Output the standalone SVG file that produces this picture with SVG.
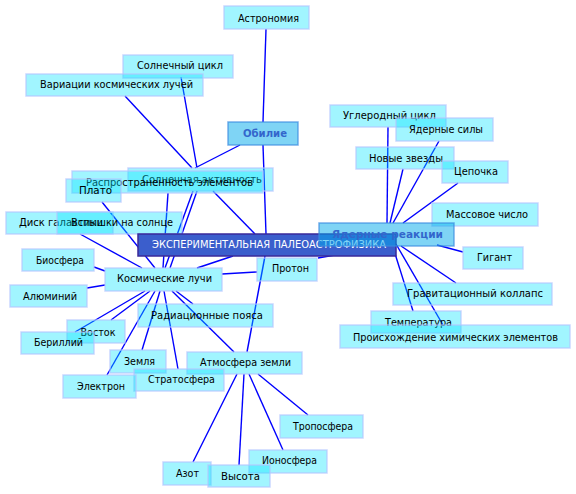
<svg xmlns="http://www.w3.org/2000/svg" width="576" height="494" viewBox="0 0 576 494">
<style>
.e{stroke:#0000ff;stroke-width:1.4;fill:none}
.n rect{fill:#00e5ff;fill-opacity:0.37;stroke:#b4c4ff;stroke-opacity:0.7;stroke-width:1.5}
.n text{font-family:"DejaVu Sans",sans-serif;font-size:10px;fill:#000;text-anchor:middle;dominant-baseline:central}
.h rect{fill:#00aaeb;fill-opacity:0.5;stroke:#3c8ce0;stroke-opacity:0.7;stroke-width:1.5}
.h text{font-family:"DejaVu Sans",sans-serif;font-size:10px;font-weight:bold;fill:#3366cc;text-anchor:middle;dominant-baseline:central}
.c rect{fill:#3b5ecc;stroke:#3a2a9a;stroke-width:1.5}
.c text{font-family:"DejaVu Sans",sans-serif;font-size:10px;fill:#fff;text-anchor:middle;dominant-baseline:central}
</style>
<rect width="576" height="494" fill="#fff"/>
<g id="connectors">
<line class="e" x1="266" y1="29" x2="263" y2="122"/>
<line class="e" x1="181" y1="77" x2="197" y2="168"/>
<line class="e" x1="125" y1="96" x2="192" y2="168"/>
<line class="e" x1="240" y1="145" x2="195" y2="168"/>
<line class="e" x1="263" y1="145" x2="266" y2="234"/>
<line class="e" x1="213" y1="191" x2="255" y2="234"/>
<line class="e" x1="168" y1="193" x2="163" y2="268"/>
<line class="e" x1="197" y1="191" x2="170" y2="268"/>
<line class="e" x1="193" y1="191" x2="165" y2="268"/>
<line class="e" x1="102" y1="202" x2="155" y2="268"/>
<line class="e" x1="80" y1="234" x2="142" y2="268"/>
<line class="e" x1="94" y1="267" x2="105" y2="271"/>
<line class="e" x1="87" y1="288" x2="105" y2="285"/>
<line class="e" x1="222" y1="274" x2="257" y2="272"/>
<line class="e" x1="197" y1="268" x2="233" y2="256"/>
<line class="e" x1="265" y1="256" x2="247" y2="352"/>
<line class="e" x1="318" y1="258" x2="387" y2="246"/>
<line class="e" x1="145" y1="291" x2="75" y2="332"/>
<line class="e" x1="150" y1="291" x2="111" y2="320"/>
<line class="e" x1="155" y1="291" x2="107" y2="375"/>
<line class="e" x1="160" y1="291" x2="142" y2="350"/>
<line class="e" x1="164" y1="291" x2="178" y2="369"/>
<line class="e" x1="176" y1="291" x2="193" y2="304"/>
<line class="e" x1="172" y1="291" x2="234" y2="352"/>
<line class="e" x1="237" y1="374" x2="193" y2="462"/>
<line class="e" x1="244" y1="374" x2="239" y2="465"/>
<line class="e" x1="249" y1="374" x2="283" y2="450"/>
<line class="e" x1="258" y1="374" x2="308" y2="415"/>
<line class="e" x1="388" y1="127" x2="387" y2="223"/>
<line class="e" x1="439" y1="141" x2="393" y2="223"/>
<line class="e" x1="403" y1="169" x2="390" y2="223"/>
<line class="e" x1="458" y1="183" x2="403" y2="223"/>
<line class="e" x1="437" y1="245" x2="463" y2="252"/>
<line class="e" x1="401" y1="246" x2="456" y2="283"/>
<line class="e" x1="392" y1="244" x2="413" y2="311"/>
<line class="e" x1="396" y1="244" x2="443" y2="325"/>
</g>
<g id="n-astronomiya" class="n"><rect x="224" y="6" width="85" height="23"/><text x="268.5" y="18" textLength="61" lengthAdjust="spacingAndGlyphs">Астрономия</text></g>
<g id="n-solnechnyi-tsikl" class="n"><rect x="123" y="55" width="110" height="23"/><text x="180" y="65.5" textLength="86" lengthAdjust="spacingAndGlyphs">Солнечный цикл</text></g>
<g id="n-variatsii" class="n"><rect x="26" y="74" width="177" height="22"/><text x="116.5" y="84.5" textLength="153" lengthAdjust="spacingAndGlyphs">Вариации космических лучей</text></g>
<g id="n-obilie" class="h"><rect x="228" y="122" width="70" height="23"/><text x="265" y="133.5" textLength="44" lengthAdjust="spacingAndGlyphs">Обилие</text></g>
<g id="n-uglerodnyi-tsikl" class="n"><rect x="330" y="105" width="116" height="22"/><text x="389.5" y="115.5" textLength="93" lengthAdjust="spacingAndGlyphs">Углеродный цикл</text></g>
<g id="n-yadernye-sily" class="n"><rect x="396" y="118" width="97" height="23"/><text x="446" y="129.5" textLength="74" lengthAdjust="spacingAndGlyphs">Ядерные силы</text></g>
<g id="n-novye-zvezdy" class="n"><rect x="356" y="147" width="98" height="22"/><text x="406" y="158" textLength="74" lengthAdjust="spacingAndGlyphs">Новые звезды</text></g>
<g id="n-tsepochka" class="n"><rect x="442" y="161" width="66" height="22"/><text x="476" y="171.5" textLength="44" lengthAdjust="spacingAndGlyphs">Цепочка</text></g>
<g id="n-massovoe-chislo" class="n"><rect x="432" y="203" width="106" height="23"/><text x="487" y="214" textLength="82" lengthAdjust="spacingAndGlyphs">Массовое число</text></g>
<g id="n-solnechnaya-aktivnost" class="n"><rect x="128" y="168" width="145" height="23"/><text x="202" y="179" textLength="120" lengthAdjust="spacingAndGlyphs">Солнечная активность</text></g>
<g id="n-rasprostranennost" class="n"><rect x="72" y="171" width="191" height="22"/><text x="169.5" y="182" textLength="167" lengthAdjust="spacingAndGlyphs">Распространенность элементов</text></g>
<g id="n-plato" class="n"><rect x="66" y="179" width="55" height="23"/><text x="95.5" y="190.5" textLength="33" lengthAdjust="spacingAndGlyphs">Плато</text></g>
<g id="n-disk-galaktiki" class="n"><rect x="6" y="212" width="107" height="22"/><text x="61" y="222.5" textLength="84" lengthAdjust="spacingAndGlyphs">Диск галактики</text></g>
<g id="n-vspyshki" class="n"><rect x="57" y="212" width="125" height="22"/><text x="122" y="222.5" textLength="102" lengthAdjust="spacingAndGlyphs">Вспышки на солнце</text></g>
<g id="n-central" class="c"><rect x="138" y="234" width="258" height="22"/><text x="269" y="244.5" textLength="234" lengthAdjust="spacingAndGlyphs">ЭКСПЕРИМЕНТАЛЬНАЯ ПАЛЕОАСТРОФИЗИКА</text></g>
<g id="n-yadernye-reaktsii" class="h"><rect x="319" y="223" width="135" height="23"/><text x="387.5" y="234.5" textLength="111" lengthAdjust="spacingAndGlyphs">Ядерные реакции</text></g>
<g id="n-gigant" class="n"><rect x="463" y="247" width="60" height="22"/><text x="494.5" y="257.5" textLength="35" lengthAdjust="spacingAndGlyphs">Гигант</text></g>
<g id="n-biosfera" class="n"><rect x="22" y="249" width="72" height="22"/><text x="60" y="260" textLength="48" lengthAdjust="spacingAndGlyphs">Биосфера</text></g>
<g id="n-proton" class="n"><rect x="257" y="258" width="60" height="23"/><text x="290.5" y="268.5" textLength="37" lengthAdjust="spacingAndGlyphs">Протон</text></g>
<g id="n-kosmicheskie-luchi" class="n"><rect x="105" y="268" width="117" height="23"/><text x="164.5" y="278.5" textLength="95" lengthAdjust="spacingAndGlyphs">Космические лучи</text></g>
<g id="n-gravitatsionnyi-kollaps" class="n"><rect x="393" y="283" width="159" height="22"/><text x="475" y="293.5" textLength="136" lengthAdjust="spacingAndGlyphs">Гравитационный коллапс</text></g>
<g id="n-alyuminii" class="n"><rect x="10" y="285" width="77" height="22"/><text x="50" y="296" textLength="54" lengthAdjust="spacingAndGlyphs">Алюминий</text></g>
<g id="n-radiatsionnye-poyasa" class="n"><rect x="138" y="304" width="135" height="23"/><text x="207" y="315" textLength="112" lengthAdjust="spacingAndGlyphs">Радиационные пояса</text></g>
<g id="n-temperatura" class="n"><rect x="371" y="311" width="90" height="22"/><text x="418.5" y="322" textLength="67" lengthAdjust="spacingAndGlyphs">Температура</text></g>
<g id="n-vostok" class="n"><rect x="67" y="320" width="58" height="23"/><text x="98" y="332" textLength="35" lengthAdjust="spacingAndGlyphs">Восток</text></g>
<g id="n-proiskhozhdenie" class="n"><rect x="340" y="325" width="230" height="23"/><text x="455.5" y="337" textLength="205" lengthAdjust="spacingAndGlyphs">Происхождение химических элементов</text></g>
<g id="n-berillii" class="n"><rect x="21" y="332" width="73" height="22"/><text x="58.5" y="342.5" textLength="49" lengthAdjust="spacingAndGlyphs">Бериллий</text></g>
<g id="n-zemlya" class="n"><rect x="110" y="350" width="56" height="23"/><text x="139.5" y="361" textLength="31" lengthAdjust="spacingAndGlyphs">Земля</text></g>
<g id="n-atmosfera-zemli" class="n"><rect x="187" y="352" width="115" height="22"/><text x="245.5" y="362.5" textLength="91" lengthAdjust="spacingAndGlyphs">Атмосфера земли</text></g>
<g id="n-stratosfera" class="n"><rect x="134" y="369" width="90" height="22"/><text x="181.5" y="379.5" textLength="67" lengthAdjust="spacingAndGlyphs">Стратосфера</text></g>
<g id="n-elektron" class="n"><rect x="63" y="375" width="73" height="23"/><text x="101" y="386" textLength="48" lengthAdjust="spacingAndGlyphs">Электрон</text></g>
<g id="n-troposfera" class="n"><rect x="280" y="415" width="83" height="23"/><text x="323" y="426" textLength="60" lengthAdjust="spacingAndGlyphs">Тропосфера</text></g>
<g id="n-ionosfera" class="n"><rect x="249" y="450" width="78" height="23"/><text x="289.5" y="460.5" textLength="55" lengthAdjust="spacingAndGlyphs">Ионосфера</text></g>
<g id="n-azot" class="n"><rect x="163" y="462" width="48" height="23"/><text x="187.5" y="473" textLength="23" lengthAdjust="spacingAndGlyphs">Азот</text></g>
<g id="n-vysota" class="n"><rect x="208" y="465" width="62" height="22"/><text x="240.5" y="476" textLength="39" lengthAdjust="spacingAndGlyphs">Высота</text></g>
</svg>
